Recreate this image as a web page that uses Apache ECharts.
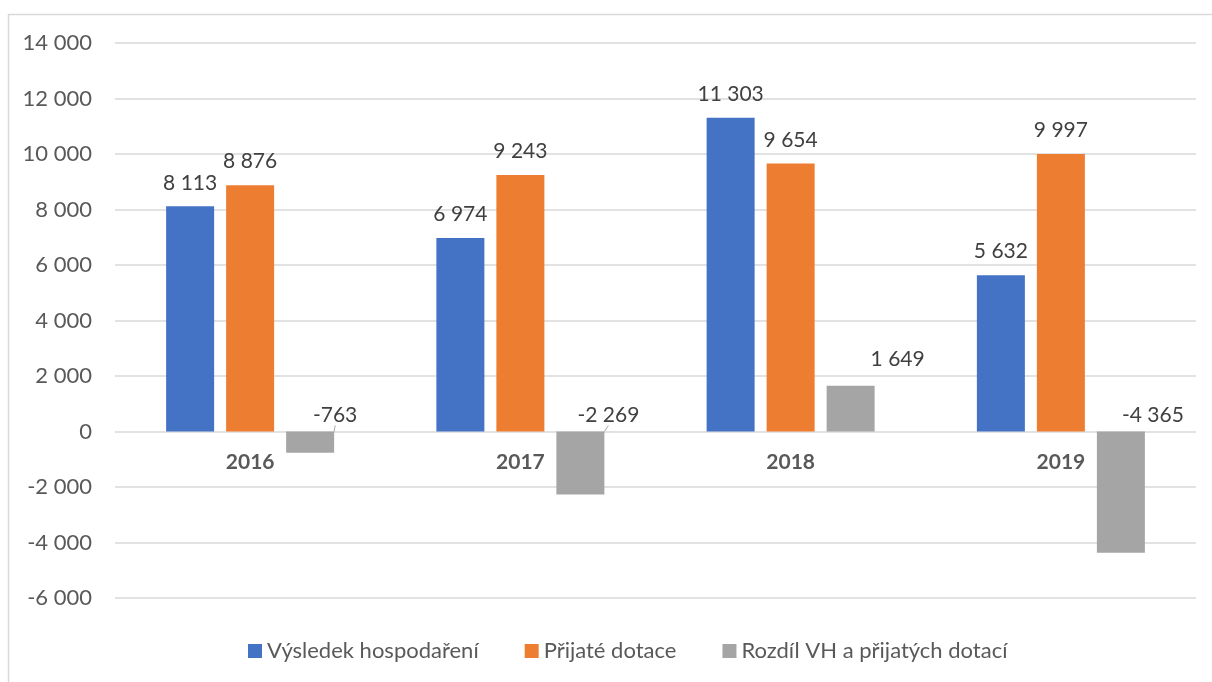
<!DOCTYPE html>
<html>
<head>
<meta charset="utf-8">
<script src="https://cdn.jsdelivr.net/npm/echarts@6/dist/echarts.min.js"></script>
<style>
  html, body { margin: 0; padding: 0; background: #fff; }
  #chart { width: 1212px; height: 682px; }
</style>
</head>
<body>
<div id="chart"></div>
<script>
// data
const years = ['2016', '2017', '2018', '2019'];
const vysledek = [8113, 6974, 11303, 5632];
const dotace = [8876, 9243, 9654, 9997];
const rozdil = [-763, -2269, 1649, -4365];
const seriesNames = ['Výsledek hospodaření', 'Přijaté dotace', 'Rozdíl VH a přijatých dotací'];
const colors = ['#4472C4', '#ED7D31', '#A5A5A5'];

// 8 113 style thousands
const fmt = v => {
    let s = Math.abs(v).toString().replace(/\B(?=(\d{3})+(?!\d))/g, ' ');
    return (v < 0 ? '-' : '') + s;
};

const font = 'Lato, "Open Sans", sans-serif';
const labelStyle = {
    show: true,
    position: 'top',
    distance: 13,
    color: '#404040',
    fontSize: 21,
    fontFamily: font,
    formatter: p => fmt(p.value)
};

// gray labels sit above the zero line, moved to the right
const grayShift = [[25, -2], [28, -2], [47, -12], [32, -2]];
const grayLeader = [true, true, false, false];

const myChart = echarts.init(document.getElementById('chart'));
myChart.setOption({
    animation: false,
    color: colors,
    graphic: [{
        type: 'rect',
        shape: { x: 8.5, y: 14.5, width: 1300, height: 700 },
        style: { fill: 'none', stroke: '#d9d9d9', lineWidth: 1.5 },
        silent: true
    }],
    grid: { left: 115, right: 16, top: 43, bottom: 84 },
    legend: {
        top: 635,
        left: 243,
        itemWidth: 14,
        itemHeight: 14,
        itemGap: 46,
        icon: 'rect',
        textStyle: { color: '#595959', fontSize: 22, fontFamily: font },
        data: seriesNames
    },
    xAxis: {
        type: 'category',
        data: years,
        axisLine: { show: false },
        axisTick: { show: false },
        axisLabel: {
            color: '#595959',
            fontSize: 21,
            fontWeight: 'bold',
            fontFamily: font,
            // labels sit just under the zero line
            margin: -146
        }
    },
    yAxis: {
        type: 'value',
        min: -6000,
        max: 14000,
        interval: 2000,
        axisLine: { show: false },
        axisTick: { show: false },
        splitLine: { lineStyle: { color: '#d9d9d9', width: 1.5 } },
        axisLabel: {
            color: '#595959',
            fontSize: 22,
            fontFamily: font,
            margin: 23,
            formatter: v => fmt(v)
        }
    },
    series: [
        {
            name: seriesNames[0],
            type: 'bar',
            data: vysledek,
            barWidth: 48,
            barGap: '25%',
            barCategoryGap: '38%',
            label: labelStyle
        },
        {
            name: seriesNames[1],
            type: 'bar',
            data: dotace,
            barWidth: 48,
            barGap: '25%',
            label: labelStyle
        },
        {
            name: seriesNames[2],
            type: 'bar',
            barWidth: 48,
            barGap: '25%',
            label: Object.assign({}, labelStyle, { distance: 4 }),
            labelLayout: p => ({ dx: grayShift[p.dataIndex][0], dy: grayShift[p.dataIndex][1] }),
            data: rozdil.map((v, i) => ({
                value: v,
                labelLine: {
                    show: grayLeader[i],
                    lineStyle: { color: '#a6a6a6', width: 1 }
                }
            }))
        }
    ]
});
</script>
</body>
</html>
